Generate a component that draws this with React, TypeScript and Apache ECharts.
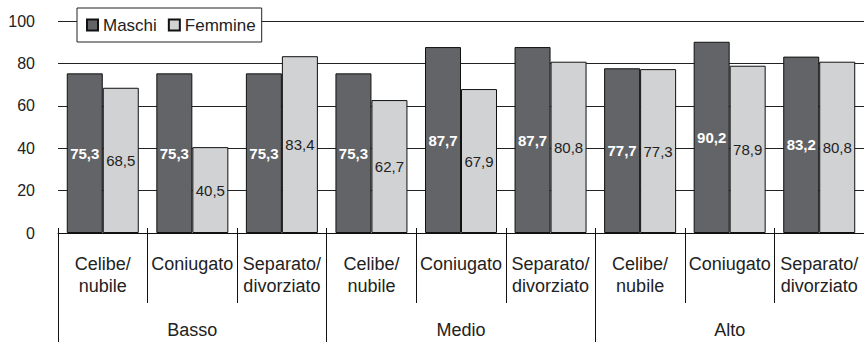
import React, { useEffect, useRef } from "react";
import * as echarts from "echarts";

const categories = [
  "Celibe/\nnubile", "Coniugato", "Separato/\ndivorziato",
  "Celibe/\nnubile", "Coniugato", "Separato/\ndivorziato",
  "Celibe/\nnubile", "Coniugato", "Separato/\ndivorziato",
];
const groups = ["Basso", "Medio", "Alto"];
const maschi = [75.3, 75.3, 75.3, 75.3, 87.7, 87.7, 77.7, 90.2, 83.2];
const femmine = [68.5, 40.5, 83.4, 62.7, 67.9, 80.8, 77.3, 78.9, 80.8];
const yTicks = { min: 0, max: 100, interval: 20 };

const FONT = "'Liberation Sans', Arial, Helvetica, sans-serif";
const fmt = (p: any) => Number(p.value).toFixed(1).replace(".", ",");

export default function App() {
  const ref = useRef<HTMLDivElement>(null);
  useEffect(() => {
    document.body.style.margin = "0";
    const chart = echarts.init(ref.current!, undefined, { renderer: "svg" });
    chart.setOption({
      animation: false,
      textStyle: { fontFamily: FONT },
      legend: {
        left: 77,
        top: 8,
        padding: [7, 6, 7, 9],
        itemWidth: 11,
        itemHeight: 11,
        itemGap: 11,
        borderColor: "#222",
        borderWidth: 1,
        backgroundColor: "#fff",
        textStyle: { fontSize: 17, lineHeight: 20, color: "#222", fontFamily: FONT },
        data: [
          { name: "Maschi", icon: "rect" },
          { name: "Femmine", icon: "rect" },
        ],
      },
      grid: { left: 58, top: 21, width: 815, height: 212 },
      xAxis: [
        {
          type: "category",
          data: categories,
          position: "bottom",
          axisLine: { show: true, lineStyle: { color: "#111", width: 1 } },
          axisTick: { show: true, inside: true, length: 5, interval: 0, lineStyle: { color: "#111" } },
          axisLabel: { show: false },
        },
        {
          type: "category",
          data: categories,
          position: "bottom",
          offset: 0,
          axisLine: { show: false },
          axisTick: { show: true, length: 70, interval: 0, lineStyle: { color: "#111" } },
          axisLabel: {
            interval: 0,
            margin: 20,
            fontSize: 18,
            lineHeight: 22,
            color: "#222",
            fontFamily: FONT,
          },
        },
        {
          type: "category",
          data: groups,
          position: "bottom",
          offset: 0,
          axisLine: { show: false },
          axisTick: { show: true, length: 109, interval: 0, lineStyle: { color: "#111" } },
          axisLabel: {
            interval: 0,
            margin: 86,
            fontSize: 18,
            lineHeight: 22,
            color: "#222",
            fontFamily: FONT,
          },
        },
      ],
      yAxis: {
        type: "value",
        ...yTicks,
        axisLine: { show: false },
        axisTick: { show: false },
        axisLabel: { fontSize: 16, color: "#222", margin: 23, fontFamily: FONT },
        splitLine: { show: true, lineStyle: { color: "#222", width: 1 } },
      },
      series: [
        {
          name: "Maschi",
          type: "bar",
          xAxisIndex: 0,
          data: maschi,
          barWidth: 36,
          barGap: "0%",
          itemStyle: { color: "#636467", borderColor: "#111", borderWidth: 1 },
          label: {
            show: true,
            position: "inside",
            formatter: fmt,
            color: "#fff",
            fontWeight: "bold",
            fontSize: 15,
            fontFamily: FONT,
          },
        },
        {
          name: "Femmine",
          type: "bar",
          xAxisIndex: 0,
          data: femmine,
          barWidth: 36,
          barGap: "0%",
          itemStyle: { color: "#d1d2d4", borderColor: "#111", borderWidth: 1 },
          label: {
            show: true,
            position: "inside",
            formatter: fmt,
            color: "#222",
            fontSize: 15,
            fontFamily: FONT,
          },
        },
      ],
    });
    return () => chart.dispose();
  }, []);
  return <div ref={ref} style={{ width: 864, height: 342 }} />;
}
